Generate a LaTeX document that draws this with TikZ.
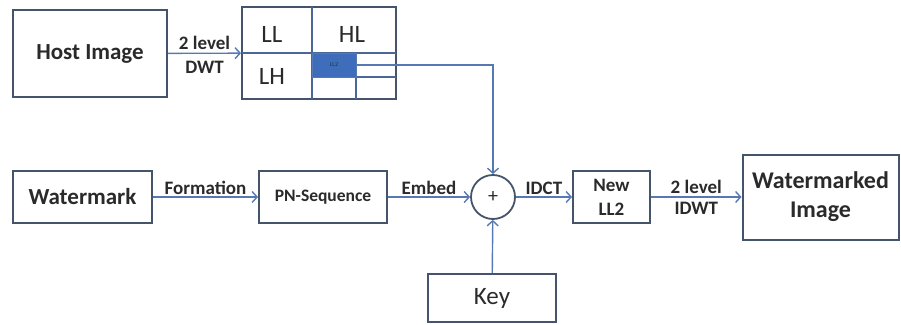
\documentclass[tikz,border=0pt]{standalone}
\usepackage{fontspec}
\setmainfont{Carlito}
\usetikzlibrary{arrows.meta}
\definecolor{edge}{HTML}{44546A}
\definecolor{wire}{HTML}{5779B3}
\definecolor{cell}{HTML}{3D6DBB}
\definecolor{ink}{HTML}{2A2A2A}
\newcommand{\sz}[2]{\fontsize{#1}{#2}\selectfont}
\newcommand{\grid}[2]{\draw[gridline] (#1) -- (#2)}

\begin{document}
\begin{tikzpicture}[x=1pt,y=-1pt,text=ink,
	box/.style={draw=edge,line width=2pt,fill=white,inner sep=0pt,align=center},
	gridline/.style={draw=wire!85!black,line width=1.5pt},
	wire/.style={draw=wire,line width=1.4pt,-{Straight Barb[length=5pt,width=11pt]}},
	lbl/.style={font=\bfseries\sz{19}{22},inner sep=1pt}]
\useasboundingbox (0,0) rectangle (901,324);
%Top row
	\node[box,minimum width=154pt,minimum height=87pt,font=\bfseries\sz{23}{28}] (host) at (90,53.5) {Host Image};
	\node[draw=edge,line width=2pt,minimum width=154pt,minimum height=92pt,inner sep=0pt] (dwt) at (319,53) {};
	\grid{312,7}{312,99};
	\grid{242,53}{396,53};
	\grid{356,53}{356,99};
	\grid{312,77}{396,77};
	\node[fill=cell,draw=wire,line width=1pt,minimum width=44pt,minimum height=24pt,inner sep=0pt,font=\sz{6}{6},text=edge!60!black] (ll2) at (334,65) {LL2};
	\node[font=\sz{25}{30}] (ll) at (272,34) {LL};
	\node[font=\sz{25}{30}] (hl) at (352,34) {HL};
	\node[font=\sz{25}{30}] (lh) at (272,76) {LH};
%Middle row
	\node[box,minimum width=139pt,minimum height=52pt,font=\bfseries\sz{23}{28}] (wm) at (82.5,197) {Watermark};
	\node[box,minimum width=128pt,minimum height=52pt,font=\bfseries\sz{17.5}{21}] (pn) at (323,197) {PN-Sequence};
	\node[circle,draw=edge,line width=1.8pt,minimum size=44pt,inner sep=0pt,font=\sz{20}{20}] (sum) at (493,197) {+};
	\node[box,minimum width=77pt,minimum height=52pt,font=\bfseries\sz{19}{24}] (newll) at (611.5,197) {New\\LL2};
	\node[box,minimum width=156pt,minimum height=85pt,font=\bfseries\sz{24}{29}] (wmimg) at (820.5,197) {Watermarked\\Image};
%The key
	\node[box,minimum width=128pt,minimum height=48pt,font=\sz{25}{30}] (key) at (492,298) {Key};
%Connectors
	\draw[wire] (host) -- (dwt) node[lbl,above=2pt,midway] {2 level} node[lbl,below=6pt,midway] {DWT};
	\draw[wire] (ll2.east) -| (sum.north);
	\draw[wire] (wm) -- (pn) node[lbl,above=1pt,midway] {Formation};
	\draw[wire] (pn) -- (sum) node[lbl,above=1pt,midway] {Embed};
	\draw[wire] (sum) -- (newll) node[lbl,above=1pt,midway] {IDCT};
	\draw[wire] (newll) -- (wmimg) node[lbl,above=2pt,midway] {2 level} node[lbl,below=3pt,midway] {IDWT};
	\draw[wire] (key) -- (sum);
\end{tikzpicture}
\end{document}
